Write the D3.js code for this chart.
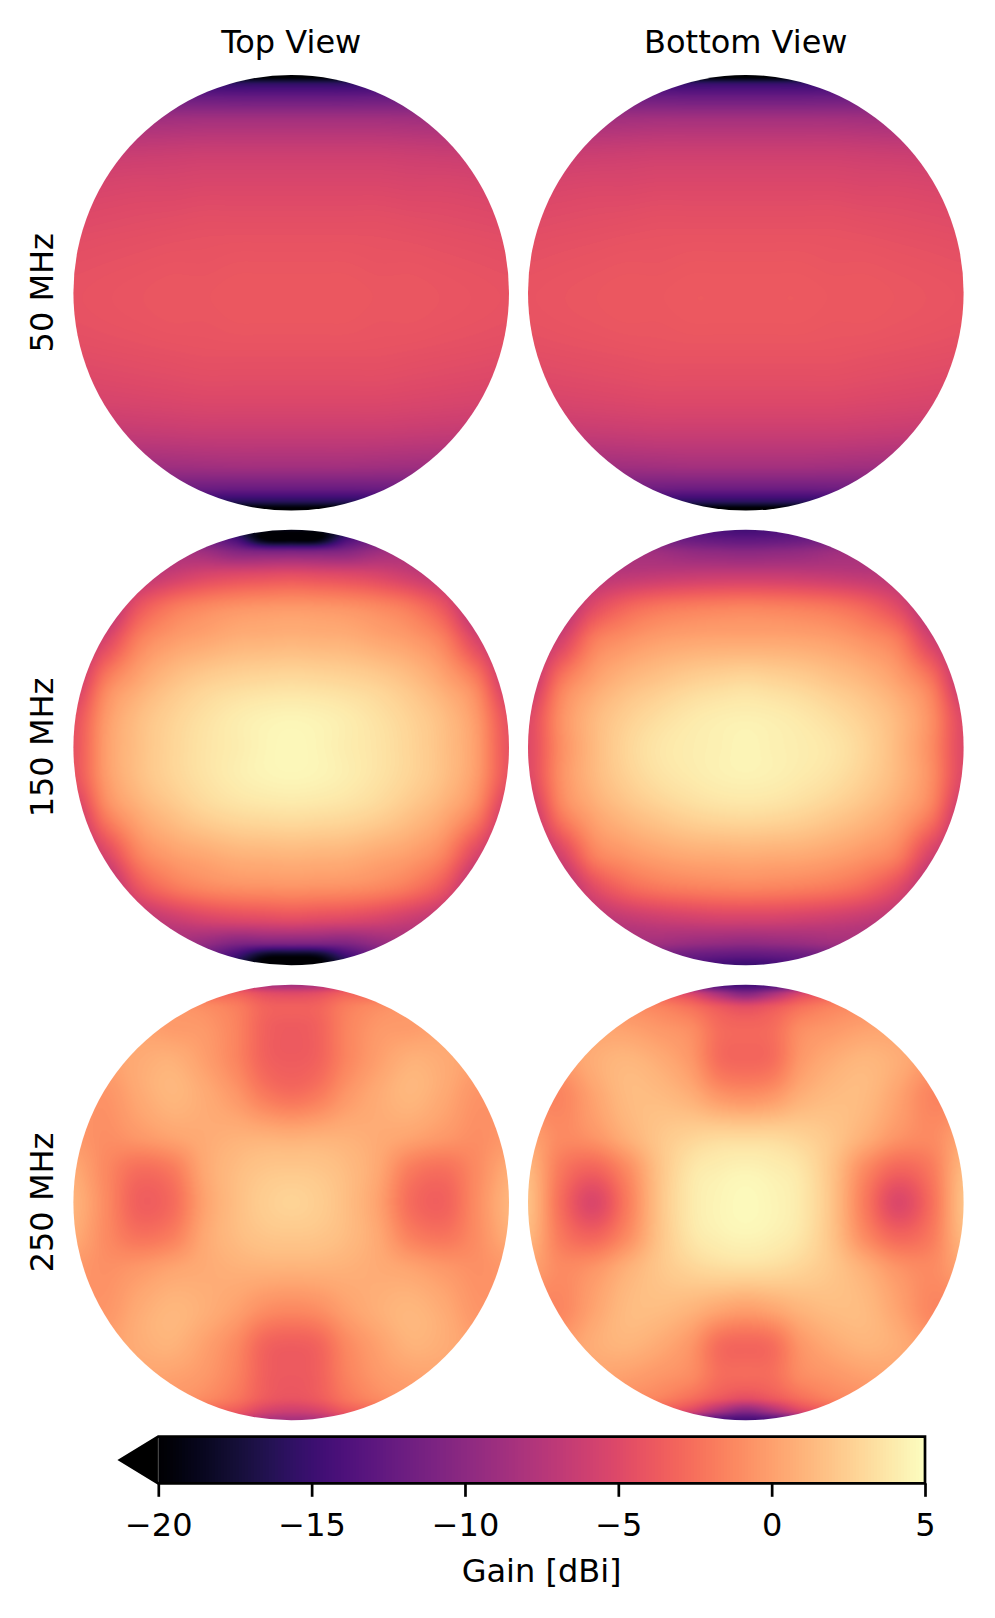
<!DOCTYPE html>
<html><head><meta charset="utf-8">
<script src="https://cdn.jsdelivr.net/npm/d3@7"></script>
<style>html,body{margin:0;padding:0;background:#fff}svg{display:block}text{font-family:"DejaVu Sans";fill:#000}</style>
</head><body><div id="chart"></div>
<script>
const frequencies = ["50 MHz","150 MHz","250 MHz"];
const views = ["Top View","Bottom View"];
const colorbarTicks = [-20,-15,-10,-5,0,5];
const colorbarLabel = "Gain [dBi]";
const gainDomain = [-20,5];
const gridX = [-1,-.85,-.7,-.55,-.4,-.25,-.12,0,.12,.25,.4,.55,.7,.85,1];
const gridY = [-1,-.96,-.9,-.8,-.65,-.5,-.3,-.15,0,.15,.3,.5,.65,.8,.9,.96,1];

const gain50Top = [
[-21,-21,-21,-21,-21,-21,-21,-21,-21,-21,-21,-21,-21,-21,-21],
[-15.5,-15.5,-15.5,-15.5,-15.5,-15.6,-15.6,-15.6,-15.6,-15.6,-15.5,-15.5,-15.5,-15.5,-15.5],
[-12.2,-12.2,-12.2,-12.2,-12.3,-12.4,-12.4,-12.4,-12.4,-12.4,-12.3,-12.2,-12.2,-12.2,-12.2],
[-9,-9,-8.9,-8.8,-8.7,-8.7,-8.7,-8.7,-8.7,-8.7,-8.7,-8.8,-8.9,-9,-9],
[-6.7,-6.6,-6.5,-6.4,-6.3,-6.3,-6.3,-6.3,-6.3,-6.3,-6.3,-6.4,-6.5,-6.6,-6.7],
[-5.6,-5.5,-5.4,-5.4,-5.3,-5.3,-5.3,-5.3,-5.3,-5.3,-5.3,-5.4,-5.4,-5.5,-5.6],
[-4.9,-4.8,-4.7,-4.6,-4.5,-4.5,-4.5,-4.5,-4.5,-4.5,-4.5,-4.6,-4.7,-4.8,-4.9],
[-4.5,-4.4,-4.3,-4.2,-4.2,-4.1,-4.1,-4.1,-4.1,-4.1,-4.2,-4.2,-4.3,-4.4,-4.5],
[-4.3,-4.2,-4.1,-4,-4,-3.9,-3.9,-3.9,-3.9,-3.9,-4,-4,-4.1,-4.2,-4.3],
[-4.4,-4.3,-4.2,-4.1,-4.1,-4,-4,-4,-4,-4,-4.1,-4.1,-4.2,-4.3,-4.4],
[-4.8,-4.7,-4.6,-4.5,-4.4,-4.4,-4.4,-4.4,-4.4,-4.4,-4.4,-4.5,-4.6,-4.7,-4.8],
[-5.6,-5.5,-5.4,-5.3,-5.2,-5.2,-5.2,-5.2,-5.2,-5.2,-5.2,-5.3,-5.4,-5.5,-5.6],
[-6.9,-6.8,-6.7,-6.6,-6.5,-6.5,-6.5,-6.5,-6.5,-6.5,-6.5,-6.6,-6.7,-6.8,-6.9],
[-9,-9,-9,-8.9,-8.8,-8.7,-8.7,-8.7,-8.7,-8.7,-8.8,-8.9,-9,-9,-9],
[-12,-12,-12,-12,-12.1,-12.2,-12.2,-12.2,-12.2,-12.2,-12.1,-12,-12,-12,-12],
[-16,-16,-16,-16,-16.1,-16.2,-16.2,-16.2,-16.2,-16.2,-16.1,-16,-16,-16,-16],
[-21,-21,-21,-21,-21,-21,-21,-21,-21,-21,-21,-21,-21,-21,-21]];

const gain50Bottom = [
[-21,-21,-21,-21,-21,-21,-21,-21,-21,-21,-21,-21,-21,-21,-21],
[-15.2,-15.2,-15.2,-15.2,-15.2,-15.3,-15.3,-15.3,-15.3,-15.3,-15.2,-15.2,-15.2,-15.2,-15.2],
[-12,-12,-12,-12,-12.1,-12.2,-12.2,-12.2,-12.2,-12.2,-12.1,-12,-12,-12,-12],
[-8.9,-8.9,-8.8,-8.7,-8.6,-8.6,-8.6,-8.6,-8.6,-8.6,-8.6,-8.7,-8.8,-8.9,-8.9],
[-6.6,-6.5,-6.4,-6.3,-6.2,-6.2,-6.2,-6.2,-6.2,-6.2,-6.2,-6.3,-6.4,-6.5,-6.6],
[-5.5,-5.4,-5.3,-5.3,-5.2,-5.2,-5.2,-5.2,-5.2,-5.2,-5.2,-5.3,-5.3,-5.4,-5.5],
[-4.8,-4.7,-4.6,-4.5,-4.4,-4.4,-4.4,-4.4,-4.4,-4.4,-4.4,-4.5,-4.6,-4.7,-4.8],
[-4.4,-4.3,-4.2,-4.1,-4.1,-4,-4,-4,-4,-4,-4.1,-4.1,-4.2,-4.3,-4.4],
[-4.2,-4.1,-4,-3.9,-3.9,-3.8,-3.8,-3.8,-3.8,-3.8,-3.9,-3.9,-4,-4.1,-4.2],
[-4.3,-4.2,-4.1,-4,-4,-3.9,-3.9,-3.9,-3.9,-3.9,-4,-4,-4.1,-4.2,-4.3],
[-4.7,-4.6,-4.5,-4.4,-4.3,-4.3,-4.3,-4.3,-4.3,-4.3,-4.3,-4.4,-4.5,-4.6,-4.7],
[-5.5,-5.4,-5.3,-5.2,-5.1,-5.1,-5.1,-5.1,-5.1,-5.1,-5.1,-5.2,-5.3,-5.4,-5.5],
[-6.8,-6.7,-6.6,-6.5,-6.4,-6.4,-6.4,-6.4,-6.4,-6.4,-6.4,-6.5,-6.6,-6.7,-6.8],
[-8.9,-8.9,-8.9,-8.8,-8.7,-8.6,-8.6,-8.6,-8.6,-8.6,-8.7,-8.8,-8.9,-8.9,-8.9],
[-11.8,-11.8,-11.8,-11.8,-11.9,-12,-12,-12,-12,-12,-11.9,-11.8,-11.8,-11.8,-11.8],
[-15.8,-15.8,-15.8,-15.8,-15.9,-16,-16,-16,-16,-16,-15.9,-15.8,-15.8,-15.8,-15.8],
[-21,-21,-21,-21,-21,-21,-21,-21,-21,-21,-21,-21,-21,-21,-21]];

const gain150Top = [
[-10,-11,-12,-13,-15,-17,-19,-19,-19,-17,-15,-13,-12,-11,-10],
[-8,-9,-9.5,-10.5,-12,-14.5,-20,-20.5,-20,-14.5,-12,-10.5,-9.5,-9,-8],
[-7,-7.5,-8,-8.3,-9,-10.5,-11,-11,-11,-10.5,-9,-8.3,-8,-7.5,-7],
[-8,-8,-7.5,-6.5,-5.6,-5.2,-5,-4.8,-5,-5.2,-5.6,-6.5,-7.5,-8,-8],
[-9,-8,-4.2,-2.2,-1.3,-.8,-.6,-.5,-.6,-.8,-1.3,-2.2,-4.2,-8,-9],
[-8,-5.4,-1.7,-.3,.3,.8,.9,1,.9,.8,.3,-.3,-1.7,-5.4,-8],
[-6.5,-1.7,.4,1.7,2.5,2.9,3.1,3.2,3.1,2.9,2.5,1.7,.4,-1.7,-6.5],
[-4.6,-.4,1.5,2.6,3.4,4,4.3,4.4,4.3,4,3.4,2.6,1.5,-.4,-4.6],
[-4.2,-.1,1.7,2.8,3.6,4.1,4.5,4.7,4.5,4.1,3.6,2.8,1.7,-.1,-4.2],
[-4.4,-.3,1.6,2.7,3.5,4.1,4.4,4.5,4.4,4.1,3.5,2.7,1.6,-.3,-4.4],
[-6.4,-1.6,.6,1.8,2.7,3.2,3.4,3.5,3.4,3.2,2.7,1.8,.6,-1.6,-6.4],
[-8,-5.4,-1.6,-.2,.4,.9,1,1.1,1,.9,.4,-.2,-1.6,-5.4,-8],
[-9,-8,-4.2,-2.3,-1.4,-1,-.9,-.8,-.9,-1,-1.4,-2.3,-4.2,-8,-9],
[-8,-8,-7.5,-6.6,-5.8,-5.4,-5.2,-5,-5.2,-5.4,-5.8,-6.6,-7.5,-8,-8],
[-7,-7.5,-8,-8.5,-9.5,-10.8,-11,-11,-11,-10.8,-9.5,-8.5,-8,-7.5,-7],
[-8,-9,-9.5,-10.5,-12,-15,-19,-19.5,-19,-15,-12,-10.5,-9.5,-9,-8],
[-10,-11,-12,-13,-15,-17,-20,-21,-20,-17,-15,-13,-12,-11,-10]];

const gain150Bottom = [
[-9,-10,-10,-11,-12,-13,-14,-14.5,-14,-13,-12,-11,-10,-10,-9],
[-9,-9.5,-10,-10.5,-11.5,-12.3,-12.8,-13,-12.8,-12.3,-11.5,-10.5,-10,-9.5,-9],
[-7.5,-8,-8,-8.5,-9,-9.7,-10,-10.2,-10,-9.7,-9,-8.5,-8,-8,-7.5],
[-8,-8,-7.6,-7.3,-7,-6.8,-6.7,-6.7,-6.7,-6.8,-7,-7.3,-7.6,-8,-8],
[-9,-8,-5,-3.2,-2.3,-1.9,-1.7,-1.6,-1.7,-1.9,-2.3,-3.2,-5,-8,-9],
[-8,-5.8,-2,-.8,-.1,.2,.3,.3,.3,.2,-.1,-.8,-2,-5.8,-8],
[-7,-2.1,.1,1.3,2,2.6,2.9,3.1,2.9,2.6,2,1.3,.1,-2.1,-7],
[-5.2,-.9,1.2,2.4,3.2,3.8,4.1,4.2,4.1,3.8,3.2,2.4,1.2,-.9,-5.2],
[-5,-1,1.3,2.8,3.7,4.1,4.3,4.5,4.3,4.1,3.7,2.8,1.3,-1,-5],
[-5.2,-.9,1.2,2.5,3.4,3.9,4.2,4.3,4.2,3.9,3.4,2.5,1.2,-.9,-5.2],
[-6.8,-1.9,.3,1.5,2.3,2.9,3.2,3.3,3.2,2.9,2.3,1.5,.3,-1.9,-6.8],
[-8,-5.7,-1.8,-.6,.1,.5,.6,.7,.6,.5,.1,-.6,-1.8,-5.7,-8],
[-9,-8,-5,-3.1,-2.2,-1.8,-1.6,-1.5,-1.6,-1.8,-2.2,-3.1,-5,-8,-9],
[-8,-8,-7.6,-7,-6.5,-6.2,-6,-6,-6,-6.2,-6.5,-7,-7.6,-8,-8],
[-7.5,-8,-8,-8.5,-8.8,-9.3,-9.6,-9.8,-9.6,-9.3,-8.8,-8.5,-8,-8,-7.5],
[-9,-9.5,-10,-10.5,-11.5,-12.3,-12.8,-13,-12.8,-12.3,-11.5,-10.5,-10,-9.5,-9],
[-9,-10,-10,-11,-12,-13,-14.5,-15,-14.5,-13,-12,-11,-10,-10,-9]];

const gain250Top = [
[-3,-3,-3,-4,-5,-6,-8,-8.5,-8,-6,-5,-4,-3,-3,-3],
[-2,-2,-2,-2.5,-3,-3.3,-4.6,-5,-4.6,-3.3,-3,-2.5,-2,-2,-2],
[-.5,-.5,-.5,-.6,-1,-1.8,-3.2,-3.4,-3.2,-1.8,-1,-.6,-.5,-.5,-.5],
[.1,.1,.1,-.2,-.4,-1.5,-3.3,-3.7,-3.3,-1.5,-.4,-.2,.1,.1,.1],
[0,0,.6,.9,0,-1.4,-3.2,-3.6,-3.2,-1.4,0,.9,.6,0,0],
[-.5,-.6,.5,1.2,.6,-.5,-2,-2.6,-2,-.5,.6,1.2,.5,-.6,-.5],
[-.4,-.9,-.4,.2,.6,.9,.9,.8,.9,.9,.6,.2,-.4,-.9,-.4],
[.5,-1.2,-2.6,-2,.4,1.5,2,2.1,2,1.5,.4,-1.9,-2.5,-1.1,.6],
[1,-1.1,-3.4,-2.8,.1,1.6,2.4,2.7,2.4,1.6,.1,-2.7,-3.3,-1,1.1],
[.6,-1.1,-2.4,-1.8,.4,1.5,2,2.1,2,1.5,.4,-1.7,-2.3,-1,.7],
[-.4,-.8,-.4,.2,.6,.9,1,1,1,.9,.6,.2,-.4,-.8,-.4],
[-.5,-.5,.6,1.2,.8,0,-1,-1.3,-1,0,.8,1.2,.6,-.5,-.5],
[0,0,.7,1,.1,-1.2,-3.1,-3.5,-3.1,-1.2,.1,1,.7,0,0],
[.2,.2,.2,.1,-.4,-1.6,-3.4,-3.8,-3.4,-1.6,-.4,.1,.2,.2,.2],
[-.5,-.5,-.5,-.6,-1.1,-2.2,-3.7,-4.2,-3.7,-2.2,-1.1,-.6,-.5,-.5,-.5],
[-2,-2,-2,-2.5,-3,-3.8,-5.6,-6.2,-5.6,-3.8,-3,-2.5,-2,-2,-2],
[-3,-3,-3,-4,-5,-6,-8,-8.5,-8,-6,-5,-4,-3,-3,-3]];

const gain250Bottom = [
[-6,-6,-6,-8,-10,-12,-14,-14.5,-14,-12,-10,-8,-6,-6,-6],
[-3,-3,-3,-3,-4,-5.5,-8.5,-10.5,-8.5,-5.5,-4,-3,-3,-3,-3],
[-.5,-.5,-.5,-1,-1.5,-2.5,-3.9,-4.7,-3.9,-2.5,-1.5,-1,-.5,-.5,-.5],
[.2,.2,.2,.1,-.4,-1,-2.7,-3,-2.7,-1,-.4,.1,.2,.2,.2],
[-.3,-.3,.7,1.2,.7,-.4,-2.6,-3,-2.6,-.4,.7,1.2,.7,-.3,-.3],
[-1.4,-1.4,.2,1.4,1.4,.7,-.6,-1,-.6,.7,1.4,1.4,.2,-1.4,-1.4],
[.2,-1.1,-.6,.8,2,2.7,3,3,3,2.7,2,.8,-.6,-1.1,.2],
[1.3,-2,-3.2,-1.2,1.8,3.7,4.2,4.4,4.2,3.7,1.8,-1.2,-3.1,-2,1.3],
[1.7,-2.6,-5.2,-2,1.8,3.9,4.5,4.8,4.5,3.9,1.8,-2,-5.1,-2.6,1.7],
[1.3,-2,-3.2,-1.2,1.8,3.7,4.3,4.5,4.3,3.7,1.8,-1.2,-3.1,-2,1.3],
[.2,-1.1,-.6,.8,2,2.8,3.2,3.3,3.2,2.8,2,.8,-.6,-1.1,.2],
[-1.4,-1.3,.2,1.4,1.5,1,.2,-.2,.2,1,1.5,1.4,.2,-1.3,-1.4],
[-.3,-.3,.7,1.1,.6,-.5,-2.6,-3,-2.6,-.5,.6,1.1,.7,-.3,-.3],
[.2,.2,.2,0,-.5,-1.1,-2.6,-2.8,-2.6,-1.1,-.5,0,.2,.2,.2],
[-.5,-.5,-.5,-1,-1.5,-2.6,-3.9,-4.7,-3.9,-2.6,-1.5,-1,-.5,-.5,-.5],
[-3,-3,-3,-3,-4,-5.5,-8.5,-10.5,-8.5,-5.5,-4,-3,-3,-3,-3],
[-6,-6,-6,-8,-10,-12,-14,-14.5,-14,-12,-10,-8,-6,-6,-6]];

const panelGains = [[gain50Top,gain50Bottom],[gain150Top,gain150Bottom],[gain250Top,gain250Bottom]];

const W=995,H=1618;
const cols=[291.2,745.8], rows=[292.8,747.5,1202.5], R=217.8;
const fs=32;
const svg=d3.select("#chart").append("svg").attr("width",W).attr("height",H).attr("viewBox",`0 0 ${W} ${H}`);
const color=d3.scaleSequential(d3.interpolateMagma).domain(gainDomain);
const ix=d3.scaleLinear().domain(gridX).range(d3.range(gridX.length)).clamp(true);
const iy=d3.scaleLinear().domain(gridY).range(d3.range(gridY.length)).clamp(true);
function cr(a,b,c,d,t){return 0.5*((2*b)+(c-a)*t+(2*a-5*b+4*c-d)*t*t+(3*b-a-3*c+d)*t*t*t);}
function sample(g,fx,fy){
  const nx=gridX.length,ny=gridY.length;
  const i=Math.min(Math.floor(fx),nx-2),j=Math.min(Math.floor(fy),ny-2),tx=fx-i,ty=fy-j;
  const rowv=r=>{const rr=g[Math.max(0,Math.min(ny-1,r))];
    return cr(rr[Math.max(0,i-1)],rr[i],rr[i+1],rr[Math.min(nx-1,i+2)],tx);};
  return cr(rowv(j-1),rowv(j),rowv(j+1),rowv(j+2),ty);
}
const defs=svg.append("defs");
const size=Math.ceil(R*2)+2;
rows.forEach((cy,ri)=>cols.forEach((cx,ci)=>{
  const g=panelGains[ri][ci];
  const cv=document.createElement("canvas");cv.width=size;cv.height=size;
  const ctx=cv.getContext("2d"),img=ctx.createImageData(size,size);
  const sx=d3.scaleLinear().domain([-1,1]).range([size/2-R,size/2+R]);
  const sy=d3.scaleLinear().domain([-1,1]).range([size/2-R,size/2+R]);
  for(let py=0;py<size;py++)for(let px=0;px<size;px++){
    const u=sx.invert(px+.5),v=sy.invert(py+.5);
    const c=d3.rgb(color(sample(g,ix(u),iy(v))));
    const k=(py*size+px)*4;
    img.data[k]=c.r;img.data[k+1]=c.g;img.data[k+2]=c.b;img.data[k+3]=255;
  }
  ctx.putImageData(img,0,0);
  const id=`disc-${ri}-${ci}`;
  defs.append("clipPath").attr("id",id).append("circle").attr("cx",cx).attr("cy",cy).attr("r",R);
  svg.append("image").attr("x",cx-size/2).attr("y",cy-size/2).attr("width",size).attr("height",size)
    .attr("href",cv.toDataURL()).attr("clip-path",`url(#${id})`);
}));
views.forEach((t,i)=>svg.append("text").attr("x",cols[i]).attr("y",52.7).attr("text-anchor","middle").attr("font-size",fs).text(t));
frequencies.forEach((t,i)=>svg.append("text").attr("transform",`translate(53,${rows[i]}) rotate(-90)`).attr("text-anchor","middle").attr("font-size",fs).text(t));

// colorbar
const bx=d3.scaleLinear().domain(gainDomain).range([158.3,925]);
const barTop=1436.7,barBot=1483.3;
const levels=d3.range(256).map(i=>gainDomain[0]+(gainDomain[1]-gainDomain[0])*i/256);
const step=(gainDomain[1]-gainDomain[0])/256;
const cb=svg.append("g").attr("shape-rendering","crispEdges");
cb.selectAll("rect").data(levels).join("rect").attr("x",d=>bx(d)).attr("y",barTop).attr("width",d=>bx(d+step)-bx(d)+.5).attr("height",barBot-barTop).attr("fill",d=>color(d+step/2));
const midY=(barTop+barBot)/2;
const tipX=120;
const outline=d3.line()([[bx(-20),barTop],[bx(5),barTop],[bx(5),barBot],[bx(-20),barBot],[tipX,midY]])+"Z";
svg.append("path").attr("d",d3.line()([[bx(-20),barTop],[bx(-20),barBot],[tipX,midY]])+"Z").attr("fill","#000");
svg.append("line").attr("x1",bx(-20)).attr("x2",bx(-20)).attr("y1",barTop).attr("y2",barBot).attr("stroke","#555").attr("stroke-width",1);
svg.append("path").attr("d",outline).attr("fill","none").attr("stroke","#000").attr("stroke-width",2.7).attr("stroke-linejoin","miter");
const axis=d3.axisBottom(bx).tickValues(colorbarTicks).tickSize(13.5).tickPadding(0).tickFormat(d=>d3.format("d")(d).replace("-","\u2212"));
const ag=svg.append("g").attr("transform",`translate(0,${barBot})`).call(axis);
ag.select(".domain").remove();
ag.selectAll("line").attr("stroke","#000").attr("stroke-width",2.7);
ag.selectAll("text").attr("font-size",fs).attr("font-family","DejaVu Sans").attr("fill","#000").attr("dy",0).attr("y",1535.7-barBot);
svg.append("text").attr("x",541.6).attr("y",1581.7).attr("text-anchor","middle").attr("font-size",fs).text(colorbarLabel);
</script></body></html>
